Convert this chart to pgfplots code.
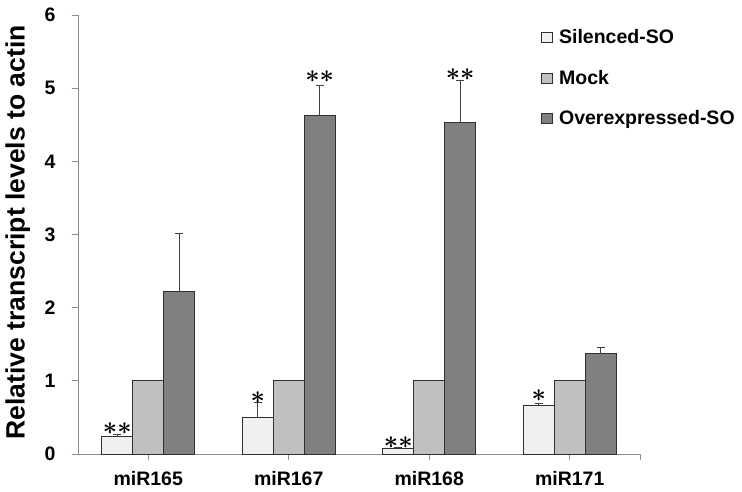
\documentclass[border=0pt]{standalone}
\usepackage{fontspec}
\setmainfont{Liberation Sans}
\usepackage{pgfplots}
\pgfplotsset{compat=1.18}
\definecolor{silenced}{HTML}{F0F0F0}
\definecolor{mock}{HTML}{C0C0C0}
\definecolor{overexp}{HTML}{808080}
\definecolor{axisgray}{HTML}{8C8C8C}
\definecolor{edge}{HTML}{303030}
\definecolor{errc}{HTML}{404040}
\newcommand{\ff}{\fontsize{19.5}{22}\selectfont\bfseries}

\begin{document}
\begin{tikzpicture}
\useasboundingbox (-78pt,-37pt) rectangle (664pt,454pt);
\begin{axis}[
  at={(0,0)}, anchor=south west,
  scale only axis, width=562pt, height=439pt,
  xmin=-0.5, xmax=3.5, ymin=0, ymax=6,
  axis x line*=bottom, axis y line*=left,
  axis line style={axisgray, line width=0.8pt},
  xtick={0,1,2,3,3.5}, xticklabels={miR165,miR167,miR168,miR171,},
  ytick={0,1,2,3,4,5,6},
  tick align=outside, major tick length=6pt,
  tick style={axisgray, line width=0.8pt},
  ticklabel style={font=\ff},
  /pgf/number format/assume math mode=true,
  yticklabel style={xshift=-13pt},
  xticklabel style={yshift=-8pt},
  ylabel={\fontsize{26.5}{28}\selectfont\bfseries Relative transcript levels to actin},
  every axis y label/.style={at={(axis description cs:-0.107,0.505)}, rotate=90, anchor=center},
  legend style={at={(rel axis cs:0.824,0.972)}, anchor=north west, draw=none, fill=none,
    row sep=21pt, column sep=4pt, font=\ff, inner sep=0pt},
  legend cell align=left,
  error bars/error bar style={draw=errc, line width=1.2pt},
  error bars/error mark options={rotate=90, mark size=4pt, draw=errc, line width=1.2pt},
]
% Silenced-SO (bars sit one bar width left of each category)
\addplot[ybar, bar width=31pt, bar shift=0pt, fill=silenced, draw=edge, line width=0.8pt,
  legend image code/.code={\draw[fill=silenced, draw=edge, line width=0.8pt] (0pt,-5pt) rectangle (11pt,5pt);},
  error bars/.cd, y dir=plus, y explicit] coordinates {
  (-0.2206,0.24) +- (0,0.03)
  (0.7794,0.50)  +- (0,0.20)
  (1.7794,0.07)  +- (0,0.02)
  (2.7794,0.67)  +- (0,0.02)
};
% Mock
\addplot[ybar, bar width=31pt, bar shift=0pt, fill=mock, draw=edge, line width=0.8pt,
  legend image code/.code={\draw[fill=mock, draw=edge, line width=0.8pt] (0pt,-5pt) rectangle (11pt,5pt);}] coordinates {
  (0,1) (1,1) (2,1) (3,1)
};
% Overexpressed-SO
\addplot[ybar, bar width=31pt, bar shift=0pt, fill=overexp, draw=edge, line width=0.8pt,
  legend image code/.code={\draw[fill=overexp, draw=edge, line width=0.8pt] (0pt,-5pt) rectangle (11pt,5pt);},
  error bars/.cd, y dir=plus, y explicit] coordinates {
  (0.2206,2.22) +- (0,0.79)
  (1.2206,4.63) +- (0,0.41)
  (2.2206,4.53) +- (0,0.58)
  (3.2206,1.37) +- (0,0.09)
};
% significance marks
\addplot[only marks, mark=*, mark options={draw=none, fill=none, scale=0},
  nodes near coords, point meta=explicit symbolic, forget plot,
  every node near coord/.append style={anchor=center, inner sep=0pt,
    font=\fontsize{32}{32}\selectfont\boldmath}] coordinates {
  (-0.2206,0.35) [$\ast$$\ast$]
  (0.7794,0.77)  [$\ast$]
  (1.2206,5.16)  [$\ast$$\ast$]
  (1.7794,0.16)  [$\ast$$\ast$]
  (2.2206,5.19)  [$\ast$$\ast$]
  (2.7794,0.80)  [$\ast$]
};
\legend{Silenced-SO, Mock, Overexpressed-SO}
\end{axis}
\end{tikzpicture}
\end{document}
